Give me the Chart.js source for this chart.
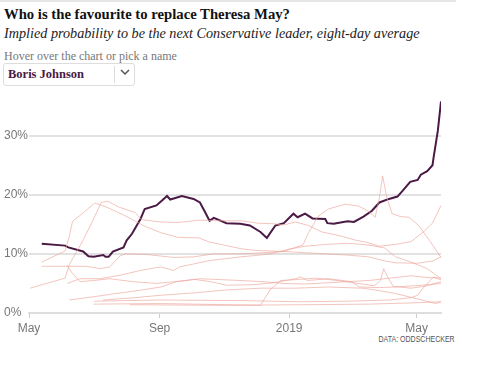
<!DOCTYPE html>
<html><head><meta charset="utf-8">
<script src="https://cdn.jsdelivr.net/npm/chart.js@4/dist/chart.umd.min.js"></script>
<style>
html,body{margin:0;padding:0;background:#fff;width:500px;height:370px;overflow:hidden;}
#topline{position:absolute;left:0;top:0;width:456px;height:2px;background:#e6e6e6;}
#title{position:absolute;left:4px;top:6px;font:bold 14.7px "Liberation Serif",serif;color:#111;white-space:nowrap;}
#sub{position:absolute;left:4px;top:25px;font:italic 14.2px "Liberation Serif",serif;color:#222;white-space:nowrap;}
#hover{position:absolute;left:4px;top:49px;font:12px "Liberation Serif",serif;color:#777;white-space:nowrap;}
#pick{position:absolute;left:3px;top:63px;width:132px;height:23px;border:1px solid #ddd;border-radius:3px;box-sizing:border-box;}
#pick span{position:absolute;left:4px;top:3px;font:bold 12.5px "Liberation Serif",serif;color:#4a1a45;}
#pick .div{position:absolute;left:110px;top:2px;width:1px;height:17px;background:#ddd;}
#pick .chev{position:absolute;left:115px;top:3px;width:12px;height:10px;}
#src{position:absolute;right:45px;top:334px;font:9px "Liberation Sans",sans-serif;color:#555;transform:scaleX(0.78);transform-origin:right top;white-space:nowrap;}
#wrap{position:absolute;left:0;top:90px;width:470px;height:250px;}
</style></head>
<body>
<div id="topline"></div>
<div id="title">Who is the favourite to replace Theresa May?</div>
<div id="sub">Implied probability to be the next Conservative leader, eight-day average</div>
<div id="hover">Hover over the chart or pick a name</div>
<div id="pick"><span>Boris Johnson</span><div class="div"></div>
<svg class="chev" viewBox="0 0 12 10"><path d="M2 3 L6 7 L10 3" fill="none" stroke="#555" stroke-width="1.5"/></svg></div>
<div id="src">DATA: ODDSCHECKER</div>
<div id="wrap"><canvas id="c"></canvas></div>
<script>
// x values are days since 1 May 2018
const tickDays = [0, 123, 245, 365];
const tickLabels = ["May", "Sep", "2019", "May"];
const yTicks = [0, 10, 20, 30];

const boris = [[12,11.7],[34,11.4],[37,11.1],[51,10.4],[56,9.6],[61,9.5],[70,9.8],[72,9.5],[75,9.5],[79,10.4],[89,11.1],[92,12.3],[97,13.4],[105,15.9],[109,17.6],[120,18.2],[125,19.0],[130,19.8],[133,19.2],[144,19.8],[155,19.3],[161,18.7],[166,17.0],[170,15.6],[174,16.1],[186,15.2],[199,15.1],[208,14.8],[218,13.7],[224,12.7],[232,14.8],[240,15.2],[249,16.8],[253,16.2],[260,16.8],[267,16.0],[279,15.9],[281,15.2],[287,15.1],[300,15.5],[306,15.4],[315,16.3],[323,17.3],[330,18.7],[339,19.3],[347,19.7],[352,20.7],[359,22.2],[366,22.5],[369,23.4],[375,24.0],[380,25.0],[381,26.3],[385,30.8],[388,35.8]];

const otherA = [[12,8.6],[34,10.5],[38,13],[41,15.5],[48,16.5],[62,18.6],[72,18],[90,16.5],[110,14.6],[124,13.6],[140,12.8],[160,12.7],[170,12],[186,11.4],[199,10.9],[212,10.6],[240,10.4],[251,11.1],[258,11.5],[263,13.5],[272,16.3],[282,17.6],[298,18.4],[310,18.1],[320,17.2],[326,16.2],[330,19.5],[333,23.2],[337,19.5],[342,16.8],[350,16.3],[358,16.2],[367,14.8],[377,12.3],[388,9.4]];
const otherB = [[1,4.2],[34,5.9],[38,8.2],[50,12],[60,15.6],[68,18.7],[74,18.9],[85,17.9],[100,17],[106,15.8],[124,15.4],[140,15.3],[160,15.7],[180,15.6],[200,15.6],[215,15.2],[230,15.1],[240,14.9],[251,15.4],[263,14.8],[276,13.7],[292,13.1],[308,12.3],[317,12],[330,11.3],[345,11.6],[360,12.1],[372,13.8],[380,15.2],[388,18.2]];
const otherC = [[12,7.9],[54,7.9],[67,7.5],[76,7.8],[86,9.7],[91,10],[111,9.9],[136,9.4],[155,9.5],[174,10],[199,10],[220,10.2],[240,10.4],[260,10.2],[280,10.0],[300,9.8],[320,9.5],[335,8.8],[345,8.5],[365,8.4],[380,8.8],[388,9.5]];
const otherD = [[36,5],[48,5.8],[67,5.8],[86,6.4],[105,7.2],[124,7.8],[136,7.2],[142,7.8],[155,8.3],[171,8.9],[186,9.2],[199,9.5],[212,9.7],[227,10],[245,10.8],[260,11.3],[280,11.6],[300,11.8],[320,11.5],[335,11],[345,9.5],[360,8.6],[375,7.5],[388,5.8]];
const otherE = [[36,8.1],[40,6.9],[48,5.3],[61,5.5],[76,5.8],[98,5.3],[120,5],[149,5.5],[161,5.8],[199,5.5],[220,5.3],[240,5.0],[260,4.9],[280,5.1],[300,5.3],[320,5.5],[340,5.9],[360,6.3],[375,6.0],[388,5.9]];
const otherF = [[38,2.2],[59,2.7],[78,3.2],[91,3.5],[110,4.0],[124,4.4],[139,5.3],[155,5.7],[171,5.3],[186,4.7],[212,4.8],[230,5.1],[251,5.8],[256,6.1],[262,5.5],[282,5.8],[304,5.3],[311,4.4],[330,4.3],[345,4.4],[370,4.7],[389,5.0]];
const otherG = [[70,2.2],[100,2.6],[124,3.0],[155,3.4],[186,3.9],[218,4.2],[251,4.2],[282,4.4],[314,4.2],[326,3.9],[345,3.3],[370,2.2],[383,1.6],[388,1.9]];
const otherH = [[61,1.5],[124,1.6],[218,1.3],[222,2.5],[227,3.9],[237,5.5],[256,5.7],[270,5.9],[290,5.5],[310,5.0],[325,4.6],[331,5.5],[334,7.5],[338,6],[343,4.5],[360,4.2],[375,4.6],[388,5.3]];
const otherI = [[61,2.0],[124,2.2],[200,2.1],[256,1.9],[300,2.0],[340,2.2],[360,2.6],[366,3.0],[372,4.4],[381,6.1],[388,5.6]];
const otherJ = [[95,1.4],[180,1.3],[260,1.4],[320,1.5],[360,1.7],[388,1.9]];

const others = [otherA, otherB, otherC, otherD, otherE, otherF, otherG, otherH, otherI, otherJ];
const toPts = a => a.map(p => ({x: p[0], y: p[1]}));

const datasets = others.map(a => ({
  data: toPts(a), borderColor: 'rgba(236,165,155,0.65)', borderWidth: 1, pointRadius: 0, tension: 0
}));
datasets.push({data: toPts(boris), borderColor: '#4a1a45', borderWidth: 2, pointRadius: 0, tension: 0});

const tickFont = {family: '"Liberation Sans Narrow","Liberation Sans",sans-serif', size: 12};

new Chart(document.getElementById('c'), {
  type: 'line',
  data: {datasets},
  options: {
    responsive: true, maintainAspectRatio: false, animation: false,
    layout: {padding: {top: 9, right: 29, bottom: 5, left: 4}},
    plugins: {legend: {display: false}, tooltip: {enabled: false}},
    scales: {
      x: {
        type: 'linear', min: 0, max: 388,
        afterBuildTicks: ax => { ax.ticks = tickDays.map(v => ({value: v})); },
        afterFit: ax => { ax.height = 22; },
        ticks: {callback: (v) => tickLabels[tickDays.indexOf(v)], color: '#777', padding: 3, maxRotation: 0, font: tickFont},
        grid: {drawOnChartArea: false, drawTicks: true, tickLength: 5, color: '#ccc'},
        border: {display: true, color: '#ddd', width: 2}
      },
      y: {
        min: 0, max: 36,
        afterBuildTicks: ax => { ax.ticks = yTicks.map(v => ({value: v})); },
        afterFit: ax => { ax.width = 25; },
        ticks: {callback: v => v + '%', color: '#777', padding: 3, crossAlign: 'far', font: tickFont},
        grid: {color: '#e2e2e2', lineWidth: 2, drawTicks: false},
        border: {display: false}
      }
    }
  }
});
</script>
</body></html>
